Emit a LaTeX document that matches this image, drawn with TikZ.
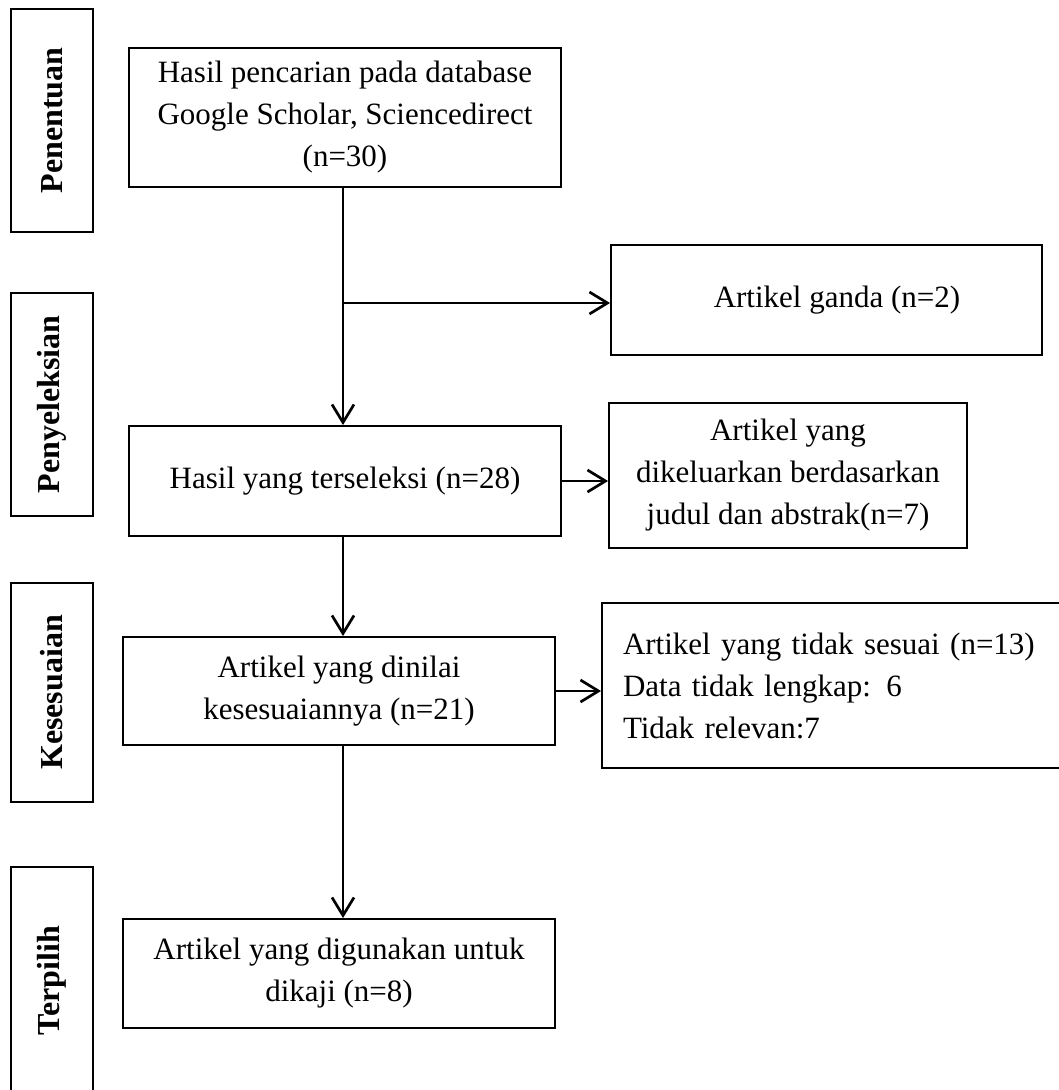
\documentclass[tikz,border=0pt]{standalone}
\usepackage{fontspec}
\setmainfont{Liberation Serif}
\usetikzlibrary{arrows.meta}
\begin{document}
\begin{tikzpicture}[x=1pt,y=-1pt,
  box/.style={draw, line width=1.9pt, inner sep=0pt, align=center,
    font=\fontsize{31}{42}\selectfont},
  side/.style={draw, line width=1.9pt, inner sep=0pt, rotate=90,
    minimum height=82pt, font=\fontsize{32}{38}\selectfont\bfseries},
  arr/.style={line width=2.7pt,
    -{Straight Barb[length=18pt,width=22pt,line width=2.7pt]}}
]
\useasboundingbox (0,0) rectangle (1059,1090);
\clip (0,0) rectangle (1059,1090);

% phase labels
\node[side, minimum width=223pt] (s1) at (52,120.5) {Penentuan};
\node[side, minimum width=223pt] (s2) at (52,404.5) {Penyeleksian};
\node[side, minimum width=219pt] (s3) at (52,692.5) {Kesesuaian};
\node[side, minimum width=227pt] (s4) at (52,980.5) {Terpilih};

% main boxes
\node[box, minimum width=432pt, minimum height=139pt] (b1) at (345,117.5)
  {Hasil pencarian pada database\\Google Scholar, Sciencedirect\\(n=30)};
\node[box, minimum width=431pt, minimum height=110pt] (ganda) at (826.5,300)
  {\hspace*{21pt}Artikel ganda (n=2)};
\node[box, minimum width=432pt, minimum height=110pt] (b2) at (345,481)
  {Hasil yang terseleksi (n=28)};
\node[box, minimum width=358pt, minimum height=145pt] (excl) at (788,475.5)
  {Artikel yang\\dikeluarkan berdasarkan\\judul dan abstrak(n=7)};
\node[box, minimum width=432pt, minimum height=108pt] (b3) at (339,691)
  {Artikel yang dinilai\\kesesuaiannya (n=21)};
\node[box, align=left, text width=438pt, inner xsep=21pt,
  minimum width=480pt, minimum height=165pt] (rej) at (842,685.5)
  {Artikel yang tidak sesuai (n=13)\\Data tidak lengkap: 6\\Tidak relevan:7};
\node[box, minimum width=432pt, minimum height=109pt] (b4) at (339,973.5)
  {Artikel yang digunakan untuk\\dikaji (n=8)};

% connectors
\coordinate (sp) at (343,0);
\coordinate (br) at (343,303);
\draw[arr] (b1.south -| sp) -- (b2.north -| sp);
\draw[arr] (br) -- (ganda.west |- br);
\draw[arr] (b2.east) -- (b2.east -| excl.west);
\draw[arr] (b2.south -| sp) -- (b3.north -| sp);
\draw[arr] (b3.east) -- (b3.east -| rej.west);
\draw[arr] (b3.south -| sp) -- (b4.north -| sp);
\end{tikzpicture}
\end{document}
